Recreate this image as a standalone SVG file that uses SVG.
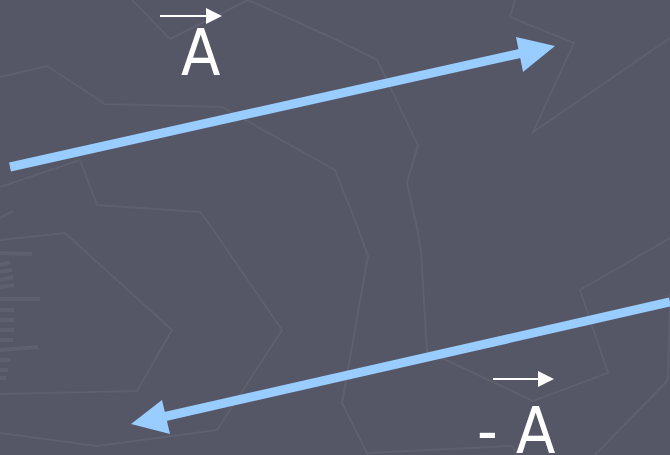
<svg xmlns="http://www.w3.org/2000/svg" width="670" height="455" viewBox="0 0 670 455">
<style>
.bg{fill:none;stroke:#5e5f6f;stroke-width:2;stroke-linejoin:miter}
.tk{fill:none;stroke:#5e5f6f;stroke-width:4}
.big{stroke:#99ccff;stroke-width:9;fill:none}
.head{fill:#99ccff}
.sm{stroke:#ffffff;stroke-width:2;fill:none}
.smh{fill:#ffffff}
.lbl{font-family:"DejaVu Sans Condensed","DejaVu Sans",sans-serif;font-size:64px;fill:#ffffff}
</style>
<rect width="670" height="455" fill="#555666"/>
<g id="background">
<polyline class="bg" points="132,0 170,39 248,0 335,39 377,60 418,145 407,182 417,228 421,251 427,351 533,401 608,373 580,290 670,238"/>
<polyline class="bg" points="515,0 510,17 574,43 533,132 670,38"/>
<polyline class="bg" points="0,77 47,66 105,104 222,107 335,170 358,228 368,256 342,403 368,455"/>
<polyline class="bg" points="368,453 512,446 518,455"/>
<polyline class="bg" points="0,187 80,160 97,205 200,212 212,228 282,330 217,430 97,446 0,433"/>
<polyline class="bg" points="0,240 65,233 172,330 137,391 0,394"/>
<polyline class="bg" points="670,293 668,380 595,455"/>
<line class="bg" x1="0" y1="218" x2="13" y2="211"/>
<g class="tk">
<line x1="0" y1="253" x2="32" y2="254"/>
<line x1="0" y1="265" x2="10" y2="262"/>
<line x1="0" y1="272" x2="12" y2="270"/>
<line x1="0" y1="280" x2="13" y2="277"/>
<line x1="0" y1="287" x2="14" y2="285"/>
<line x1="0" y1="299" x2="40" y2="299"/>
<line x1="0" y1="310" x2="14" y2="310"/>
<line x1="0" y1="320" x2="14" y2="320"/>
<line x1="0" y1="330" x2="14" y2="330"/>
<line x1="0" y1="340" x2="13" y2="340"/>
<line x1="0" y1="350" x2="38" y2="347"/>
<line x1="0" y1="360" x2="10" y2="360"/>
<line x1="0" y1="370" x2="8" y2="370"/>
<line x1="0" y1="378" x2="6" y2="378"/>
</g>
</g>
<g id="connectors">
<g id="arrow-top">
<line class="big" x1="10" y1="167" x2="522" y2="53"/>
<polygon class="head" points="555,46 516,37 523,72"/>
</g>
<g id="arrow-bottom">
<line class="big" x1="670" y1="302" x2="163" y2="417"/>
<polygon class="head" points="131,424 162,400 170,434"/>
</g>
</g>
<g id="label-A">
<line class="sm" x1="160" y1="16" x2="208" y2="16"/>
<polygon class="smh" points="222,16 206,8 206,24"/>
<text class="lbl" x="181" y="75">A</text>
</g>
<g id="label-negA">
<line class="sm" x1="493" y1="379" x2="540" y2="379"/>
<polygon class="smh" points="554,379 538,371 538,387"/>
<text class="lbl" x="477" y="453">- A</text>
</g>
</svg>
